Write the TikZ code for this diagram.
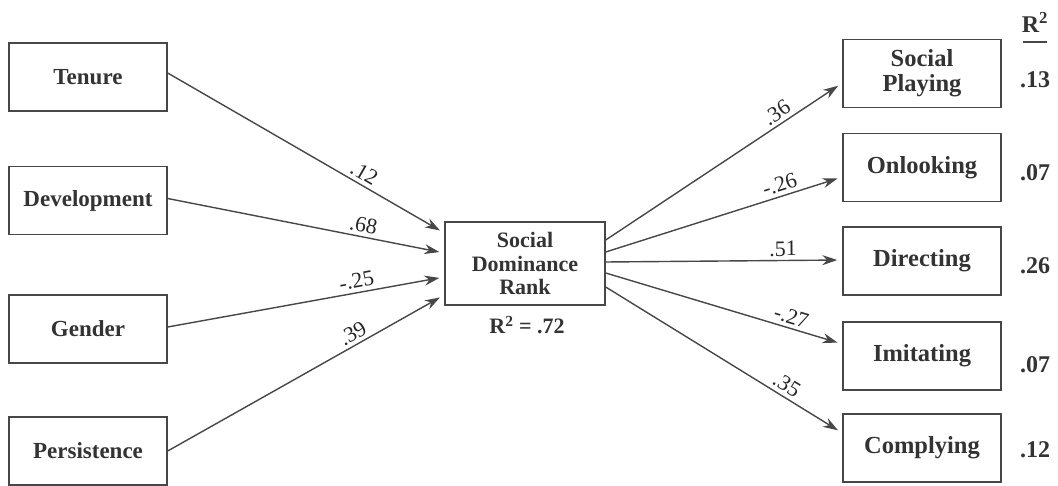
\documentclass[tikz,border=0pt]{standalone}
\usepackage{fontspec}
\setmainfont{Liberation Serif}
\usetikzlibrary{arrows.meta}
\begin{document}
\begin{tikzpicture}[x=1pt,y=-1pt,
  box/.style={draw=black!72, line width=1.4pt, minimum width=158pt, minimum height=68pt, inner sep=0pt, text=black!80, font=\fontsize{23}{25}\selectfont\bfseries, align=center},
  rbox/.style={box, font=\fontsize{24.5}{25}\selectfont\bfseries},
  cbox/.style={box, minimum width=160pt, minimum height=83pt, font=\fontsize{22}{23.5}\selectfont\bfseries},
  conn/.style={draw=black!72, line width=1.4pt, shorten >=5pt, -{Stealth[length=15pt,width=10pt]}},
  coef/.style={font=\fontsize{22}{23}\selectfont, text=black!85, sloped, above, inner sep=3.5pt},
  rsq/.style={font=\fontsize{24}{25}\selectfont\bfseries, text=black!80, inner sep=0pt}]
\useasboundingbox (0,0) rectangle (1058,486);
% left boxes
\node[box] (ten) at (88,77) {Tenure};
\node[box] (dev) at (88,200.5) {Development};
\node[box] (gen) at (88,329) {Gender};
\node[box] (per) at (88,451) {Persistence};
% centre
\node[cbox] (sdr) at (525,263.5) {Social\\Dominance\\Rank};
\node[rsq, font=\fontsize{22}{23}\selectfont\bfseries] (sdrr) at (527,325) {R\textsuperscript{2} = .72};
% right boxes
\node[rbox] (sp) at (922,73.5) {Social\\Playing};
\node[rbox] (onl) at (922,167.5) {Onlooking};
\node[rbox] (dir) at (922,261) {Directing};
\node[rbox] (imi) at (922,356) {Imitating};
\node[rbox] (com) at (922,448) {Complying};
% R2 column
\node[rsq] (rh) at (1035,22) {R\textsuperscript{2}};
\draw[black!72, line width=1.4pt] (1023,42) -- (1047,42);
\node[rsq] (r1) at (1035,80) {.13};
\node[rsq] (r2) at (1035,173) {.07};
\node[rsq] (r3) at (1035,266) {.26};
\node[rsq] (r4) at (1035,365) {.07};
\node[rsq] (r5) at (1035,450) {.12};
% left connectors
\draw[conn] ([yshift=4pt]ten.east) -- node[coef, pos=0.69] {.12} ([yshift=30.5pt]sdr.west);
\draw[conn] ([yshift=2pt]dev.east) -- node[coef, pos=0.70] {.68} ([yshift=10.5pt]sdr.west);
\draw[conn] ([yshift=2pt]gen.east) -- node[coef, pos=0.69] {-.25} ([yshift=-13.5pt]sdr.west);
\draw[conn] (per.east) -- node[coef, pos=0.69] {.39} ([yshift=-31.5pt]sdr.west);
% right connectors
\draw[conn] ([yshift=23.5pt]sdr.east) -- node[coef, pos=0.75] {.36} ([yshift=-9.5pt]sp.west);
\draw[conn] ([yshift=11.5pt]sdr.east) -- node[coef, pos=0.75] {-.26} ([yshift=-9.5pt]onl.west);
\draw[conn] ([yshift=1.5pt]sdr.east) -- node[coef, pos=0.75] {.51} ([yshift=1pt]dir.west);
\draw[conn] ([yshift=-9.5pt]sdr.east) -- node[coef, pos=0.77] {-.27} ([yshift=12pt]imi.west);
\draw[conn] ([yshift=-23.5pt]sdr.east) -- node[coef, pos=0.74] {.35} ([yshift=15pt]com.west);
\end{tikzpicture}
\end{document}
